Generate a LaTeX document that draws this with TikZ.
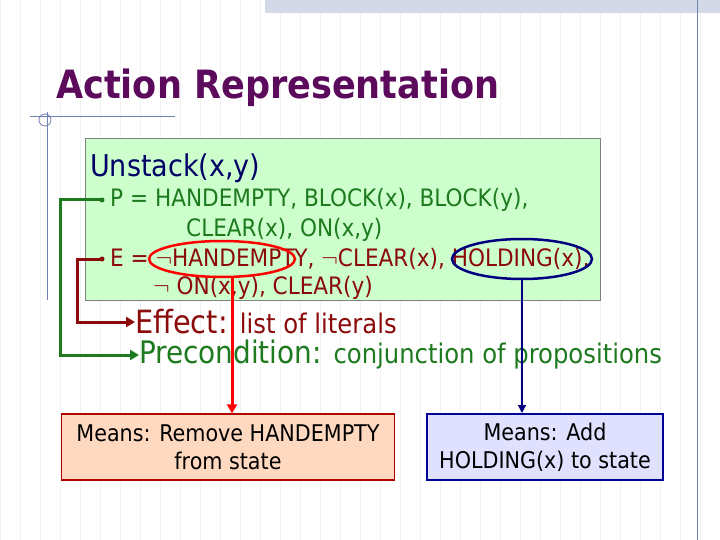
\documentclass[tikz,border=0pt]{standalone}
\usepackage{fontspec}
\setmainfont{DejaVu Sans Condensed}
\usetikzlibrary{arrows.meta}
\definecolor{ttl}{HTML}{5C0A5C}
\definecolor{dgreen}{HTML}{1E7A1E}
\definecolor{dred}{HTML}{8B0A0A}
\definecolor{slate}{HTML}{7080B0}
\begin{document}
\begin{tikzpicture}[x=1pt,y=-1pt,
 conn/.style={line width=3pt,-{Triangle[length=9pt,width=10pt]}},
 lbl/.style={anchor=west,inner sep=0pt},
 means/.style={draw,line width=1.2pt,minimum width=#1,minimum height=66pt,align=center,font=\fontsize{23}{28}\selectfont}]
\useasboundingbox (0,0) rectangle (720,540);
\fill[white] (0,0) rectangle (720,540);
\draw[black!5,line width=0.4pt] (0,0) grid[step=20] (720,540);
\fill[slate!30] (265,0) rectangle (720,13);
\draw[slate,line width=1pt] (697,0) -- (697,540);
\draw[slate,line width=1pt] (30,117) -- (175,117);
\draw[slate,line width=0.8pt] (45,120) circle (6);
\draw[slate,line width=0.8pt] (47,112) -- (47,300);
\node[lbl,text=ttl,font=\fontsize{39}{44}\selectfont\bfseries] (title) at (56,88) {Action Representation};
\node[draw=black!50,fill=green!20,line width=0.8pt,minimum width=515pt,minimum height=162pt,anchor=north west,inner sep=0pt] (box) at (85,138) {};
\node[lbl,text=blue!40!black,font=\fontsize{30}{34}\selectfont] (un) at (90,168) {Unstack(x,y)};
\node[lbl,text=dgreen,font=\fontsize{24}{28}\selectfont] (p1) at (110,200) {P = HANDEMPTY, BLOCK(x), BLOCK(y),};
\node[lbl,text=dgreen,font=\fontsize{24}{28}\selectfont] (p2) at (186,230) {CLEAR(x), ON(x,y)};
\node[lbl,text=dred,font=\fontsize{24}{28}\selectfont] (e1) at (110,259) {E = $\neg$HANDEMPTY, $\neg$CLEAR(x), HOLDING(x),};
\node[lbl,text=dred,font=\fontsize{24}{28}\selectfont] (e2) at (153,288) {$\neg$ ON(x,y), CLEAR(y)};
\fill[dgreen] (102,200) circle (2.5);
\fill[dred] (102,259) circle (2.5);
\coordinate (pb) at (100,200);
\coordinate (eb) at (100,259);
\node[lbl,text=dred] (eff) at (135,322) {\fontsize{32}{34}\selectfont Effect: \fontsize{27}{30}\selectfont list of literals};
\node[lbl,text=dgreen] (pre) at (139,355) {\fontsize{31}{34}\selectfont Precondition: \fontsize{27}{30}\selectfont conjunction of propositions};
\draw[red,line width=2.5pt] (222,259) ellipse (73 and 18);
\draw[blue!50!black,line width=2.5pt] (522,259) ellipse (70 and 20);
\node[means=333pt,draw=red!70!black,fill=red!20!orange!25] (m1) at (228,447) {Means: Remove HANDEMPTY\\from state};
\node[means=236pt,draw=blue!60!black,fill=blue!12,line width=2pt] (m2) at (545,447) {Means: Add\\HOLDING(x) to state};
\draw[dgreen,conn] (pb) -- (60,200) -- (60,355) -- (pre.west);
\draw[dred,conn] (eb) -- (77,259) -- (77,322) -- (eff.west);
\draw[red,line width=3pt,-{Triangle[length=9pt,width=10pt]}] (232,277) -- (m1.north -| 232,0);
\draw[blue!50!black,line width=1.2pt,-{Triangle[length=8pt,width=8pt]}] (522,279) -- (m2.north -| 522,0);
\end{tikzpicture}
\end{document}
